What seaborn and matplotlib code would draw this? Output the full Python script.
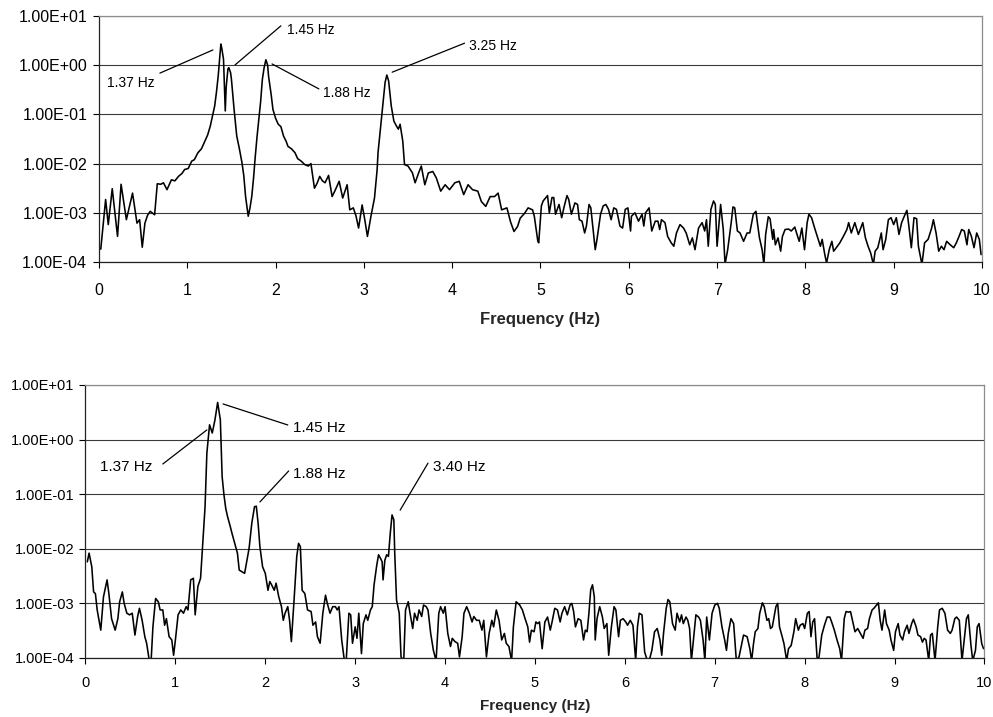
#!/usr/bin/env python3
# -*- coding: utf-8 -*-
"""
plot.py

Purpose:
    Two response spectra (log amplitude vs frequency) with peak labels
"""
###########################################################
### Imports
import numpy as np
import pandas as pd
import seaborn as sns
import matplotlib.pyplot as plt
from matplotlib.ticker import FixedLocator, FuncFormatter, NullLocator

###########################################################
### Data (amplitudes stored as log10 values)
top_freq = [0.02, 0.075, 0.105, 0.15, 0.21, 0.25, 0.31, 0.38, 0.43, 0.46,
            0.49, 0.52, 0.55, 0.58, 0.63, 0.66, 0.70, 0.73, 0.77, 0.82,
            0.86, 0.90, 0.94, 0.97, 1.01, 1.05, 1.08, 1.12, 1.16, 1.20,
            1.23, 1.26, 1.29, 1.31, 1.33, 1.35, 1.37, 1.38, 1.39, 1.41,
            1.42, 1.43, 1.44, 1.46, 1.47, 1.49, 1.50, 1.53, 1.56, 1.59,
            1.62, 1.64, 1.66, 1.69, 1.71, 1.73, 1.75, 1.77, 1.79, 1.81,
            1.83, 1.85, 1.87, 1.89, 1.91, 1.92, 1.95, 1.97, 2.00, 2.03,
            2.06, 2.09, 2.12, 2.14, 2.18, 2.22, 2.25, 2.29, 2.33, 2.37,
            2.40, 2.44, 2.47, 2.50, 2.53, 2.56, 2.60, 2.64, 2.67, 2.72,
            2.76, 2.81, 2.84, 2.88, 2.91, 2.94, 2.98, 3.01, 3.04, 3.08,
            3.12, 3.15, 3.16, 3.19, 3.22, 3.24, 3.26, 3.28, 3.31, 3.34,
            3.37, 3.39, 3.41, 3.44, 3.46, 3.50, 3.55, 3.58, 3.62, 3.65,
            3.69, 3.73, 3.78, 3.82, 3.87, 3.92, 3.97, 4.03, 4.08, 4.13,
            4.18, 4.23, 4.29, 4.33, 4.38, 4.43, 4.48, 4.52, 4.56, 4.62,
            4.66, 4.70, 4.74, 4.77, 4.82, 4.86, 4.91, 4.93, 4.97, 4.98,
            5.01, 5.03, 5.08, 5.10, 5.13, 5.15, 5.17, 5.21, 5.24, 5.27,
            5.30, 5.32, 5.35, 5.39, 5.42, 5.44, 5.47, 5.50, 5.52, 5.55,
            5.57, 5.62, 5.64, 5.68, 5.71, 5.74, 5.77, 5.80, 5.83, 5.86,
            5.90, 5.93, 5.96, 5.99, 6.02, 6.03, 6.07, 6.11, 6.15, 6.17,
            6.19, 6.23, 6.26, 6.30, 6.33, 6.35, 6.37, 6.41, 6.44, 6.48,
            6.51, 6.54, 6.58, 6.62, 6.65, 6.69, 6.72, 6.75, 6.79, 6.83,
            6.86, 6.88, 6.90, 6.93, 6.96, 6.98, 7.00, 7.04, 7.07, 7.09,
            7.12, 7.16, 7.18, 7.20, 7.23, 7.26, 7.30, 7.34, 7.37, 7.41,
            7.44, 7.46, 7.48, 7.51, 7.53, 7.55, 7.58, 7.60, 7.63, 7.64,
            7.66, 7.69, 7.72, 7.74, 7.77, 7.81, 7.84, 7.88, 7.90, 7.93,
            7.96, 7.99, 8.02, 8.04, 8.07, 8.11, 8.14, 8.17, 8.19, 8.22,
            8.24, 8.27, 8.30, 8.32, 8.35, 8.39, 8.43, 8.47, 8.49, 8.52,
            8.56, 8.60, 8.65, 8.68, 8.71, 8.74, 8.77, 8.79, 8.82, 8.86,
            8.88, 8.91, 8.94, 8.97, 9.00, 9.03, 9.06, 9.09, 9.12, 9.15,
            9.17, 9.20, 9.23, 9.26, 9.28, 9.32, 9.35, 9.39, 9.43, 9.45,
            9.48, 9.51, 9.54, 9.57, 9.60, 9.64, 9.68, 9.71, 9.74, 9.77,
            9.80, 9.83, 9.85, 9.88, 9.91, 9.94, 9.97, 9.99]
top_log_amp = [-3.74, -2.73, -3.24, -2.51, -3.48, -2.42, -3.14, -2.60, -3.21, -3.14,
               -3.70, -3.21, -3.05, -2.97, -3.04, -2.41, -2.42, -2.39, -2.53, -2.33,
               -2.35, -2.26, -2.20, -2.12, -2.10, -1.95, -1.92, -1.78, -1.70, -1.54,
               -1.42, -1.24, -1.00, -0.83, -0.55, -0.22, 0.20, 0.43, 0.35, 0.12,
               -0.40, -0.93, -0.45, -0.08, -0.05, -0.15, -0.29, -0.90, -1.44, -1.70,
               -1.99, -2.25, -2.67, -3.07, -2.90, -2.67, -2.30, -1.85, -1.45, -1.10,
               -0.75, -0.29, -0.05, 0.11, 0.00, -0.22, -0.60, -0.90, -1.08, -1.20,
               -1.25, -1.44, -1.55, -1.65, -1.70, -1.78, -1.90, -1.95, -2.02, -2.05,
               -2.00, -2.50, -2.40, -2.26, -2.35, -2.39, -2.24, -2.67, -2.56, -2.36,
               -2.70, -2.43, -2.94, -2.90, -3.06, -3.31, -2.84, -3.14, -3.48, -3.07,
               -2.70, -2.12, -1.78, -1.24, -0.69, -0.35, -0.20, -0.32, -0.83, -1.14,
               -1.24, -1.30, -1.20, -1.54, -2.02, -2.05, -2.19, -2.39, -2.19, -2.05,
               -2.43, -2.19, -2.16, -2.29, -2.56, -2.43, -2.53, -2.39, -2.36, -2.63,
               -2.43, -2.53, -2.56, -2.77, -2.87, -2.67, -2.67, -2.60, -2.94, -2.90,
               -3.18, -3.38, -3.28, -3.11, -3.01, -2.90, -2.94, -3.07, -3.58, -3.61,
               -2.86, -2.76, -2.65, -3.00, -2.69, -2.69, -3.03, -2.83, -3.10, -2.86,
               -2.65, -2.73, -3.03, -2.80, -2.83, -3.14, -3.17, -3.41, -3.27, -2.83,
               -2.90, -3.75, -3.54, -3.03, -2.86, -2.83, -2.93, -3.14, -2.90, -2.93,
               -3.27, -3.31, -2.93, -2.90, -3.37, -3.07, -3.00, -3.17, -3.03, -3.27,
               -3.00, -2.90, -3.37, -3.17, -3.17, -3.34, -3.14, -3.20, -3.48, -3.61,
               -3.68, -3.41, -3.24, -3.31, -3.41, -3.65, -3.51, -3.75, -3.31, -3.20,
               -3.37, -3.14, -3.68, -2.93, -2.76, -2.83, -3.68, -2.83, -3.34, -4.05,
               -3.75, -3.20, -2.88, -2.90, -3.37, -3.41, -3.58, -3.41, -3.41, -3.03,
               -2.97, -3.25, -3.51, -3.75, -4.05, -3.44, -3.08, -3.12, -3.54, -3.34,
               -3.65, -3.51, -3.78, -3.48, -3.34, -3.33, -3.37, -3.29, -3.41, -3.58,
               -3.31, -3.75, -3.20, -3.03, -3.10, -3.34, -3.51, -3.68, -3.54, -3.85,
               -4.02, -3.75, -3.58, -3.78, -3.71, -3.61, -3.48, -3.34, -3.20, -3.41,
               -3.20, -3.44, -3.20, -3.51, -3.68, -3.82, -4.05, -3.78, -3.71, -3.41,
               -3.75, -3.54, -3.14, -3.10, -3.24, -3.10, -3.44, -3.20, -3.07, -2.95,
               -3.24, -3.71, -3.10, -3.12, -3.68, -4.05, -3.61, -3.54, -3.31, -3.14,
               -3.41, -3.78, -3.68, -3.75, -3.58, -3.65, -3.71, -3.61, -3.48, -3.34,
               -3.37, -3.65, -3.34, -3.48, -3.71, -3.41, -3.54, -3.85]

bottom_freq = [0.02, 0.04, 0.07, 0.09, 0.11, 0.13, 0.17, 0.20, 0.24, 0.26,
               0.29, 0.33, 0.36, 0.38, 0.41, 0.43, 0.46, 0.49, 0.52, 0.55,
               0.58, 0.60, 0.63, 0.66, 0.68, 0.71, 0.73, 0.75, 0.78, 0.81,
               0.83, 0.86, 0.88, 0.90, 0.93, 0.96, 0.98, 1.00, 1.03, 1.06,
               1.09, 1.12, 1.14, 1.17, 1.20, 1.22, 1.25, 1.28, 1.30, 1.33,
               1.35, 1.38, 1.41, 1.44, 1.47, 1.50, 1.52, 1.54, 1.56, 1.58,
               1.61, 1.63, 1.66, 1.69, 1.71, 1.74, 1.77, 1.79, 1.82, 1.85,
               1.88, 1.90, 1.92, 1.94, 1.97, 2.00, 2.03, 2.05, 2.07, 2.10,
               2.12, 2.15, 2.18, 2.20, 2.22, 2.25, 2.27, 2.29, 2.32, 2.35,
               2.37, 2.39, 2.41, 2.44, 2.47, 2.51, 2.53, 2.56, 2.58, 2.61,
               2.64, 2.67, 2.69, 2.72, 2.75, 2.78, 2.80, 2.82, 2.85, 2.88,
               2.90, 2.93, 2.95, 2.97, 3.00, 3.02, 3.04, 3.07, 3.09, 3.12,
               3.14, 3.17, 3.19, 3.21, 3.22, 3.24, 3.26, 3.28, 3.30, 3.31,
               3.33, 3.35, 3.37, 3.39, 3.41, 3.43, 3.44, 3.46, 3.49, 3.51,
               3.54, 3.56, 3.59, 3.61, 3.64, 3.66, 3.69, 3.71, 3.74, 3.76,
               3.79, 3.81, 3.84, 3.87, 3.90, 3.93, 3.95, 3.98, 4.00, 4.03,
               4.06, 4.08, 4.11, 4.14, 4.16, 4.19, 4.21, 4.24, 4.27, 4.30,
               4.32, 4.35, 4.38, 4.41, 4.43, 4.46, 4.49, 4.52, 4.54, 4.57,
               4.60, 4.63, 4.66, 4.68, 4.71, 4.74, 4.76, 4.79, 4.83, 4.86,
               4.89, 4.92, 4.94, 4.96, 4.99, 5.01, 5.03, 5.05, 5.08, 5.11,
               5.14, 5.17, 5.19, 5.22, 5.25, 5.28, 5.30, 5.33, 5.36, 5.39,
               5.41, 5.43, 5.45, 5.48, 5.51, 5.54, 5.56, 5.58, 5.60, 5.62,
               5.64, 5.66, 5.67, 5.69, 5.72, 5.75, 5.77, 5.80, 5.82, 5.85,
               5.88, 5.90, 5.93, 5.95, 5.98, 6.01, 6.03, 6.06, 6.09, 6.12,
               6.14, 6.16, 6.19, 6.22, 6.25, 6.27, 6.30, 6.33, 6.36, 6.39,
               6.41, 6.43, 6.46, 6.48, 6.50, 6.53, 6.56, 6.58, 6.61, 6.63,
               6.65, 6.68, 6.70, 6.72, 6.74, 6.77, 6.79, 6.82, 6.84, 6.87,
               6.89, 6.91, 6.94, 6.97, 7.00, 7.03, 7.05, 7.08, 7.11, 7.13,
               7.15, 7.18, 7.21, 7.24, 7.27, 7.30, 7.32, 7.36, 7.39, 7.41,
               7.43, 7.45, 7.48, 7.50, 7.53, 7.55, 7.58, 7.60, 7.62, 7.64,
               7.68, 7.70, 7.72, 7.75, 7.77, 7.80, 7.82, 7.85, 7.88, 7.90,
               7.93, 7.95, 7.98, 8.00, 8.03, 8.05, 8.07, 8.09, 8.11, 8.14,
               8.16, 8.19, 8.22, 8.25, 8.28, 8.30, 8.33, 8.36, 8.39, 8.41,
               8.44, 8.46, 8.49, 8.51, 8.54, 8.56, 8.59, 8.62, 8.65, 8.67,
               8.70, 8.72, 8.75, 8.77, 8.80, 8.82, 8.84, 8.86, 8.89, 8.91,
               8.94, 8.96, 8.99, 9.01, 9.04, 9.06, 9.09, 9.11, 9.14, 9.16,
               9.19, 9.21, 9.24, 9.26, 9.29, 9.31, 9.33, 9.35, 9.38, 9.40,
               9.42, 9.45, 9.48, 9.50, 9.53, 9.56, 9.59, 9.62, 9.64, 9.67,
               9.69, 9.72, 9.75, 9.77, 9.80, 9.82, 9.85, 9.87, 9.90, 9.92,
               9.94, 9.97, 9.99]
bottom_log_amp = [-2.24, -2.08, -2.33, -2.79, -2.82, -3.12, -3.49, -2.88, -2.57, -2.82,
                  -3.28, -3.49, -3.28, -2.97, -2.79, -3.00, -3.18, -3.21, -3.18, -3.58,
                  -3.24, -3.09, -3.31, -3.61, -3.73, -4.05, -4.05, -3.43, -2.91, -2.97,
                  -3.12, -3.12, -3.40, -3.28, -3.61, -3.67, -3.95, -3.67, -3.21, -3.12,
                  -3.18, -3.06, -3.12, -2.57, -2.54, -3.21, -2.69, -2.54, -2.02, -1.23,
                  -0.25, 0.27, 0.12, 0.36, 0.68, 0.36, -0.68, -1.01, -1.26, -1.41,
                  -1.59, -1.72, -1.90, -2.08, -2.39, -2.42, -2.45, -2.27, -1.99, -1.53,
                  -1.23, -1.22, -1.53, -1.96, -2.33, -2.45, -2.76, -2.60, -2.66, -2.76,
                  -2.63, -2.88, -3.06, -3.31, -3.18, -3.06, -3.31, -3.70, -2.94, -2.14,
                  -1.90, -1.96, -2.76, -2.82, -3.12, -3.15, -3.40, -3.34, -3.61, -3.73,
                  -3.18, -2.85, -3.00, -3.18, -3.06, -3.06, -3.12, -3.06, -3.67, -4.05,
                  -4.05, -3.18, -3.21, -3.73, -3.43, -3.64, -3.18, -3.92, -3.37, -3.21,
                  -3.31, -3.12, -3.06, -2.66, -2.54, -2.30, -2.11, -2.17, -2.24, -2.57,
                  -2.21, -2.11, -2.14, -1.72, -1.38, -1.47, -2.08, -2.94, -3.18, -3.98,
                  -4.05, -3.12, -2.97, -3.18, -3.46, -3.18, -3.31, -3.12, -3.24, -3.03,
                  -3.06, -3.12, -3.55, -3.86, -4.05, -3.18, -3.06, -3.18, -3.06, -3.55,
                  -3.79, -3.64, -3.70, -3.73, -3.98, -3.61, -3.18, -3.06, -3.18, -3.34,
                  -3.24, -3.31, -3.31, -3.49, -3.31, -3.98, -3.55, -3.31, -3.43, -3.12,
                  -3.31, -3.67, -3.55, -3.73, -3.79, -4.05, -3.43, -2.97, -3.03, -3.12,
                  -3.28, -3.43, -3.71, -3.49, -3.52, -3.34, -3.37, -3.34, -3.83, -3.34,
                  -3.25, -3.49, -3.34, -3.09, -3.12, -3.34, -3.18, -3.06, -3.21, -3.03,
                  -3.00, -3.15, -3.43, -3.28, -3.31, -3.67, -3.49, -3.52, -3.18, -2.75,
                  -2.66, -2.88, -3.67, -3.28, -3.06, -3.25, -3.46, -3.37, -3.95, -3.43,
                  -3.06, -3.12, -3.61, -3.31, -3.28, -3.34, -3.40, -3.31, -3.40, -4.05,
                  -3.43, -3.18, -3.21, -3.89, -4.05, -4.05, -3.86, -3.52, -3.46, -3.67,
                  -3.95, -3.55, -3.09, -2.93, -2.97, -3.37, -3.49, -3.18, -3.34, -3.21,
                  -3.37, -3.25, -3.31, -3.46, -4.05, -3.55, -3.21, -3.25, -3.31, -3.67,
                  -4.05, -3.25, -3.67, -3.18, -3.03, -3.00, -3.09, -3.43, -3.67, -3.86,
                  -3.55, -3.28, -3.37, -4.05, -3.98, -3.74, -3.58, -3.61, -3.83, -4.05,
                  -3.75, -3.52, -3.46, -3.18, -2.99, -3.06, -3.31, -3.28, -3.46, -3.43,
                  -3.06, -3.00, -3.43, -3.61, -3.74, -4.05, -3.83, -3.77, -3.52, -3.28,
                  -3.49, -3.40, -3.37, -3.46, -3.18, -3.15, -3.61, -3.34, -3.28, -4.05,
                  -3.98, -3.58, -3.40, -3.25, -3.25, -3.34, -3.49, -3.67, -3.83, -4.05,
                  -3.28, -3.15, -3.16, -3.15, -3.37, -3.52, -3.46, -3.55, -3.64, -3.49,
                  -3.46, -3.28, -3.12, -3.09, -3.03, -2.99, -3.31, -3.49, -3.12, -3.37,
                  -3.49, -3.67, -3.86, -3.52, -3.37, -3.58, -3.67, -3.52, -3.40, -3.55,
                  -3.37, -3.29, -3.43, -3.58, -3.61, -3.71, -3.64, -3.67, -4.05, -3.58,
                  -3.55, -4.05, -3.43, -3.12, -3.09, -3.18, -3.49, -3.55, -3.49, -3.28,
                  -3.25, -3.31, -4.05, -3.74, -3.28, -3.21, -3.77, -4.05, -3.86, -3.43,
                  -3.37, -3.74, -3.83]

# peak label texts
top_labels = ["1.37 Hz", "1.45 Hz", "1.88 Hz", "3.25 Hz"]
bottom_labels = ["1.37 Hz", "1.45 Hz", "1.88 Hz", "3.40 Hz"]


def decade_label(v, pos):
    return "{:.2E}".format(v)


def style_axis(ax, tick_size, ylab_pad, xlab_pad):
    ax.set_yscale("log")
    ax.set_xlim(0, 10)
    ax.set_ylim(1e-4, 1e1)
    ax.yaxis.set_major_locator(FixedLocator([1e-4, 1e-3, 1e-2, 1e-1, 1e0, 1e1]))
    ax.yaxis.set_major_formatter(FuncFormatter(decade_label))
    ax.yaxis.set_minor_locator(NullLocator())
    ax.set_xticks(range(0, 11))
    ax.grid(axis="y", color="#3a3a3a", lw=0.8)
    ax.grid(axis="x", visible=False)
    ax.set_axisbelow(True)
    ax.tick_params(axis="y", direction="out", length=4, width=0.8, pad=ylab_pad,
                   labelsize=tick_size, left=True, colors="black")
    ax.tick_params(axis="x", direction="out", length=4, width=0.8, pad=xlab_pad,
                   labelsize=tick_size, bottom=True, colors="black")
    for side in ["left", "bottom"]:
        ax.spines[side].set_color("#222222")
        ax.spines[side].set_linewidth(0.9)
    for side in ["top", "right"]:
        ax.spines[side].set_visible(True)
        ax.spines[side].set_color("#8c8c8c")
        ax.spines[side].set_linewidth(0.9)
    ax.set_ylabel("")


def leader(ax, tail, tip, text, text_xy, fs, ha="left"):
    ax.annotate("", xy=tip, xytext=tail,
                arrowprops=dict(arrowstyle="-", lw=0.9, color="black",
                                shrinkA=0, shrinkB=0))
    ax.text(text_xy[0], text_xy[1], text, fontsize=fs, ha=ha, va="center",
            color="black")


###########################################################
### main
def main():
    sns.set_style("ticks")
    plt.rcParams["font.family"] = ["Liberation Sans", "DejaVu Sans"]

    df_top = pd.DataFrame({"freq": top_freq, "amp": 10.0 ** np.array(top_log_amp)})
    df_bot = pd.DataFrame({"freq": bottom_freq, "amp": 10.0 ** np.array(bottom_log_amp)})

    fig = plt.figure(figsize=(9.93, 7.17), dpi=100)
    ax1 = fig.add_axes([0.0997, 0.6346, 0.8892, 0.3431])
    ax2 = fig.add_axes([0.0861, 0.0823, 0.9053, 0.3808])

    # Top spectrum
    sns.lineplot(data=df_top, x="freq", y="amp", ax=ax1, color="black", lw=1.15,
                 estimator=None, sort=False)
    style_axis(ax1, 11.5, 4.5, 11)
    ax1.set_xlabel("Frequency (Hz)", fontsize=12, fontweight="bold")
    ax1.xaxis.set_label_coords(0.5, -0.203)
    leader(ax1, (0.69, 0.69), (1.29, 2.04), top_labels[0], (0.36, 0.44), 10, ha="center")
    leader(ax1, (1.54, 1.01), (2.06, 6.3), top_labels[1], (2.13, 5.3), 10)
    leader(ax1, (1.96, 1.06), (2.49, 0.33), top_labels[2], (2.54, 0.27), 10)
    leader(ax1, (3.32, 0.72), (4.14, 2.8), top_labels[3], (4.19, 2.45), 10)

    # Bottom spectrum
    sns.lineplot(data=df_bot, x="freq", y="amp", ax=ax2, color="black", lw=1.15,
                 estimator=None, sort=False)
    style_axis(ax2, 10.5, 4, 9)
    ax2.set_xlabel("Frequency (Hz)", fontsize=11, fontweight="bold")
    ax2.xaxis.set_label_coords(0.5, -0.152)
    leader(ax2, (0.86, 0.357), (1.35, 1.50), bottom_labels[0], (0.45, 0.32), 11, ha="center")
    leader(ax2, (1.53, 4.49), (2.25, 1.85), bottom_labels[1], (2.31, 1.66), 11)
    leader(ax2, (1.94, 0.072), (2.26, 0.266), bottom_labels[2], (2.31, 0.23), 11)
    leader(ax2, (3.50, 0.051), (3.81, 0.37), bottom_labels[3], (3.87, 0.32), 11)

    plt.savefig("out.png", dpi=100)


###########################################################
### start main
if __name__ == "__main__":
    main()
